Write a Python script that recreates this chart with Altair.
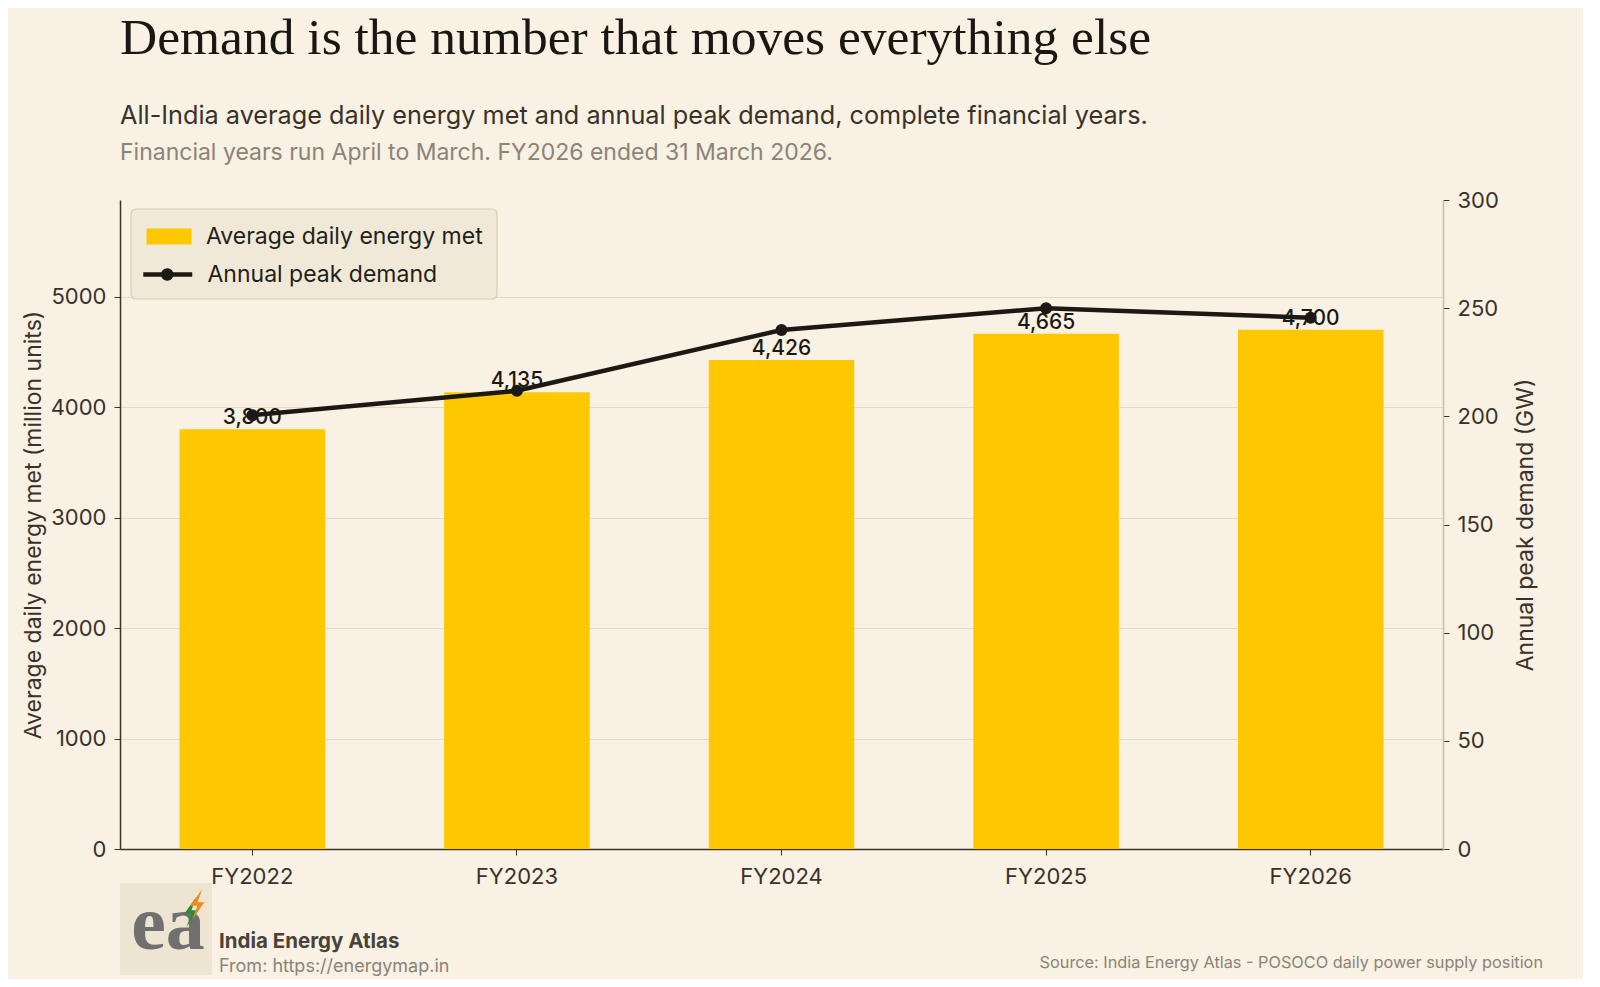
import altair as alt
import pandas as pd

# values
years = ["FY2022", "FY2023", "FY2024", "FY2025", "FY2026"]
energy_mu = [3800, 4135, 4426, 4665, 4700]      # average daily energy met, million units
peak_gw = [200.5, 211.8, 239.9, 250.0, 245.6]   # annual peak demand, GW

bar_name = "Average daily energy met"
line_name = "Annual peak demand"
left_ticks = [0, 1000, 2000, 3000, 4000, 5000]
right_ticks = [0, 50, 100, 150, 200, 250, 300]

title_text = "Demand is the number that moves everything else"
subtitle_text = "All-India average daily energy met and annual peak demand, complete financial years."
note_text = "Financial years run April to March. FY2026 ended 31 March 2026."
brand_text = "India Energy Atlas"
link_text = "From: https://energymap.in"
source_text = "Source: India Energy Atlas - POSOCO daily power supply position"

BG = "#f8f1e4"
YELLOW = "#fdc800"
INK = "#1c1813"
AXIS_INK = "#3a3229"
MUTED = "#8b8376"
GRID = "#e4d9c1"
W, H = 1323, 649

df = pd.DataFrame({"year": years, "energy": energy_mu, "peak": peak_gw,
                   "bar_series": bar_name, "line_series": line_name})

base = alt.Chart(df).encode(
    x=alt.X("year:N", title=None, sort=years,
            scale=alt.Scale(paddingInner=0, paddingOuter=0),
            axis=alt.Axis(labelAngle=0, labelFontSize=22, labelPadding=11, tickSize=6,
                          tickColor=AXIS_INK, domainColor=AXIS_INK, domainWidth=1.5,
                          labelColor=AXIS_INK))
)

# legend swatches: custom paths (unit = 10px), symbol centre sits 10px in from the entry
rect_path = "M-1,-0.8H3.5V0.8H-1Z"
line_path = ("M-1.2,0H3.7"
             "M1.6,0A0.4,0.4,0,1,1,0.8,0A0.4,0.4,0,1,1,1.6,0Z"
             "M1.35,0A0.15,0.15,0,1,1,1.05,0A0.15,0.15,0,1,1,1.35,0Z")
legend_common = dict(title=None, orient="none", padding=0, labelFont="Inter",
                     labelFontSize=23, labelColor="#231e18", labelLimit=500, symbolSize=400)

bars = base.mark_bar(width=alt.RelativeBandSize(0.55)).encode(
    y=alt.Y("energy:Q", scale=alt.Scale(domain=[0, 5875], nice=False),
            axis=alt.Axis(title="Average daily energy met (million units)", values=left_ticks,
                          format="d", grid=True, gridColor=GRID, gridWidth=1.2,
                          domainColor=AXIS_INK, domainWidth=1.5, tickColor=AXIS_INK, tickSize=6,
                          labelFontSize=22, labelPadding=8, labelColor=AXIS_INK,
                          titleFontSize=23, titleFontWeight="normal", titleColor=AXIS_INK,
                          titleX=-87, titleY=H / 2, titleAngle=270,
                          titleAlign="center", titleBaseline="middle")),
    color=alt.Color("bar_series:N", scale=alt.Scale(domain=[bar_name], range=[YELLOW]),
                    legend=alt.Legend(legendX=25, legendY=25, symbolType=rect_path,
                                      symbolStrokeWidth=0, labelOffset=38, **legend_common)),
)

labels = base.mark_text(dy=-5, baseline="alphabetic", fontSize=21, fontWeight=500,
                        font="Inter", color=INK).encode(
    y=alt.Y("energy:Q"),
    text=alt.Text("energy:Q", format=",.0f"),
)

peak_y = alt.Y("peak:Q", scale=alt.Scale(domain=[0, 300], nice=False),
               axis=alt.Axis(orient="right", title="Annual peak demand (GW)", values=right_ticks,
                             grid=False, domainColor="#c7bca4", domainWidth=1.5,
                             tickColor=AXIS_INK, tickSize=6, labelFontSize=22, labelPadding=8,
                             labelColor=AXIS_INK, titleFontSize=23, titleFontWeight="normal",
                             titleColor=AXIS_INK, titleX=82, titleY=H / 2, titleAngle=270,
                             titleAlign="center", titleBaseline="middle"))

line = base.mark_line(strokeWidth=4.5).encode(
    y=peak_y,
    stroke=alt.Stroke("line_series:N", scale=alt.Scale(domain=[line_name], range=[INK]),
                      legend=alt.Legend(legendX=22.75, legendY=62, symbolType=line_path,
                                        symbolStrokeWidth=4.5, symbolFillColor=INK,
                                        symbolStrokeColor=INK, labelOffset=39.75,
                                        **legend_common)),
)
dots = base.mark_circle(color=INK, size=145, opacity=1).encode(y="peak:Q")


def note(text, x, y, **kw):
    return alt.Chart(pd.DataFrame({"t": [text]})).mark_text(baseline="alphabetic", **kw).encode(
        x=alt.value(x), y=alt.value(y), text="t:N")


def box(x, x2, y, y2, **kw):
    return alt.Chart(pd.DataFrame({"t": [0]})).mark_rect(**kw).encode(
        x=alt.value(x), x2=alt.value(x2), y=alt.value(y), y2=alt.value(y2))


def glyph(path, x, y, size, color):
    return alt.Chart(pd.DataFrame({"t": [0]})).mark_point(
        shape=path, size=size, filled=True, color=color, opacity=1).encode(
        x=alt.value(x), y=alt.value(y))


legend_box = box(11, 377, 9, 99, fill="#f0e9d8", stroke="#d8cdb2", strokeWidth=1.2,
                 cornerRadius=5)

title = note(title_text, 0, -146, align="left", font="Liberation Serif", fontSize=51.5,
             color="#1a1612")
subtitle = note(subtitle_text, 0, -76, align="left", font="Inter", fontSize=25.25, color="#3a3229")
subnote = note(note_text, 0, -40, align="left", font="Inter", fontSize=23, color=MUTED)

bolt_path = "M0.35,-1L-0.45,0.12H0.02L-0.3,1L0.5,-0.12H0.03Z"
logo_box = box(0, 92, 683, 775, color="#ede5d2")
logo_ea = note("ea", 48, 749, align="center", font="Liberation Serif", fontSize=78,
               fontWeight="bold", color="#707070")
logo_bolt_g = glyph(bolt_path, 71, 712, 900, "#2e8b3a")
logo_bolt = glyph(bolt_path, 77, 704, 900, "#f08a1c")
brand = note(brand_text, 99, 748, align="left", font="Inter", fontSize=20.5, fontWeight="bold",
             color="#4a4237")
link = note(link_text, 99, 772, align="left", font="Inter", fontSize=18, color=MUTED)
source = note(source_text, 1423, 768, align="right", font="Inter", fontSize=16.3, color=MUTED)

chart = alt.layer(
    alt.layer(bars, labels),
    alt.layer(line, dots),
    legend_box, title, subtitle, subnote, logo_box, logo_ea, logo_bolt_g, logo_bolt,
    brand, link, source,
).resolve_scale(
    y="independent"
).properties(
    width=W, height=H,
    padding={"left": 112, "top": 192, "right": 140, "bottom": 130},
    autosize=alt.AutoSizeParams(type="none"),
    background=BG,
).configure_view(
    stroke=None
).configure_axis(
    labelFont="Inter", titleFont="Inter"
)

chart.save("out.html", embed_options={"renderer": "svg", "actions": False})
